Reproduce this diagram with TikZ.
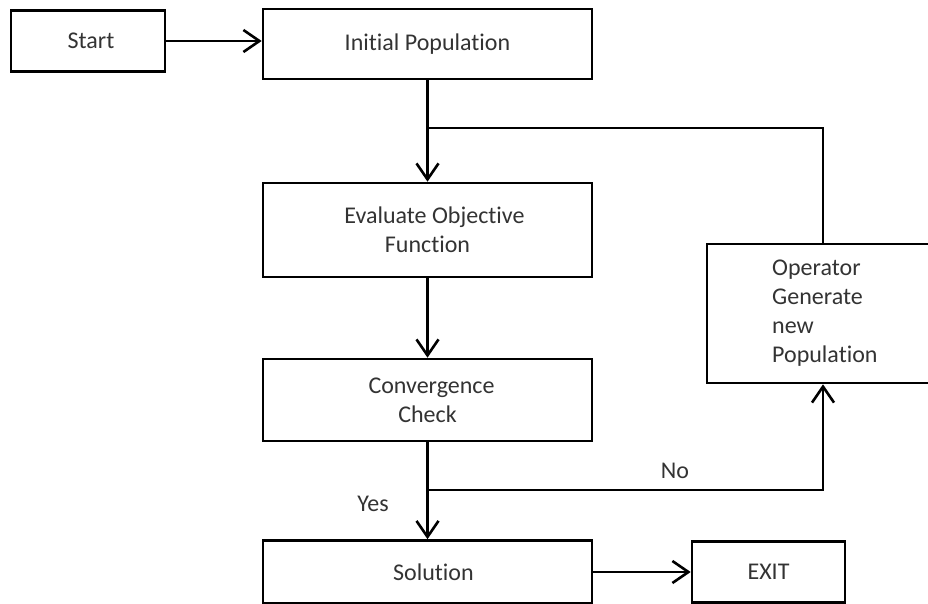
\documentclass[tikz,border=0pt]{standalone}
\usepackage{fontspec}
\setmainfont{Carlito}[Ligatures=NoCommon]
\usetikzlibrary{arrows.meta}
\begin{document}
\begin{tikzpicture}[x=1pt,y=-1pt,
  box/.style={draw=black, line width=2.6pt, rectangle, inner sep=0pt,
    text=black!80, font=\fontsize{24}{29}\selectfont, align=center},
  lbl/.style={text=black!80, font=\fontsize{24}{29}\selectfont, inner sep=0pt},
  flow/.style={draw=black, line width=2.6pt,
    -{Straight Barb[length=16pt,width=22pt,line width=2.6pt]}},
  link/.style={draw=black, line width=2.6pt}]
\useasboundingbox (0,0) rectangle (928,604);

% process boxes
\node[box, minimum width=154pt, minimum height=61pt] (start) at (88,41) {\hspace*{6pt}Start};
\node[box, minimum width=329pt, minimum height=70pt] (init) at (427.5,44) {Initial Population};
\node[box, minimum width=329pt, minimum height=94pt] (eval) at (427.5,230) {\hspace*{14pt}Evaluate Objective\\Function};
\node[box, minimum width=329pt, minimum height=82pt] (conv) at (427.5,400) {\hspace*{8pt}Convergence\\Check};
\node[box, minimum width=329pt, minimum height=63pt] (sol) at (427.5,572) {\hspace*{12pt}Solution};
\node[box, minimum width=153pt, minimum height=61pt] (exit) at (768.5,572) {EXIT};
\node[box, minimum width=232pt, minimum height=139pt] (oper) at (823,313.5) {};
\node[lbl, anchor=west, align=left] (opertext) at (772,313) {Operator\\Generate\\new\\Population};

% junction points on the vertical trunk
\coordinate (loopin) at (427.5,128);
\coordinate (branch) at (427.5,490);

% connectors
\draw[flow] (start.east) -- (start.east -| init.west);
\draw[flow] (init.south) -- (eval.north);
\draw[link] (oper.north) |- (loopin);
\draw[flow] (eval.south) -- (conv.north);
\draw[flow] (conv.south) -- (sol.north);
\draw[flow] (branch) -| (oper.south);
\draw[flow] (sol.east) -- (exit.west);

% branch labels
\node[lbl] (yes) at (373,504) {Yes};
\node[lbl] (no) at (675,471) {No};
\end{tikzpicture}
\end{document}
